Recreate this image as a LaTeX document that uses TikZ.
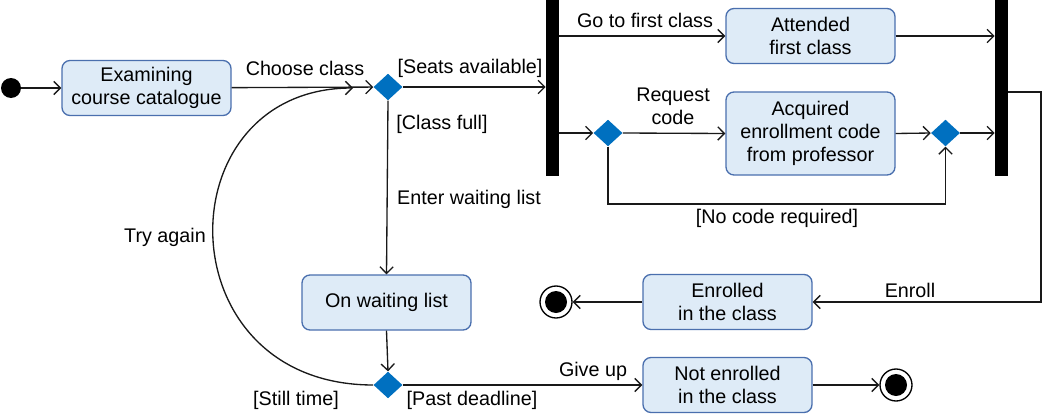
\documentclass[tikz,border=0pt]{standalone}
\usepackage{fontspec}
\setmainfont{Liberation Sans}
\usetikzlibrary{arrows.meta,shapes.geometric,calc}
\definecolor{boxfill}{HTML}{DEEBF7}
\definecolor{boxline}{HTML}{4A6FAE}
\definecolor{diafill}{HTML}{0070C0}
\begin{document}
\begin{tikzpicture}[x=0.75pt,y=-0.75pt,
  font=\fontsize{14.8}{17.5}\selectfont,
  act/.style={draw=boxline, fill=boxfill, rounded corners=6pt, line width=1pt, align=center, inner sep=0pt, minimum width=126.75pt, minimum height=41.25pt},
  dec/.style={diamond, fill=diafill, draw=none, minimum width=21.75pt, minimum height=20pt, inner sep=0pt},
  bar/.style={rectangle, fill=black, draw=none, minimum width=9.75pt, minimum height=132pt, inner sep=0pt},
  flow/.style={draw=black!90, line width=1pt, -{Straight Barb[length=5pt,width=10pt]}},
  lbl/.style={inner sep=0pt, align=center},
  finalnode/.style={circle, draw=black, line width=1pt, fill=white, minimum size=24pt, inner sep=0pt,
    path picture={\fill[black] (path picture bounding box.center) circle (8.25pt);}}]
\path[use as bounding box] (0,0) rectangle (1042,414);

% nodes
\node[circle, fill=black, minimum size=15pt, inner sep=0pt] (start) at (11,88) {};
\node[act] (exam) at (146.5,88) {Examining\\course catalogue};
\node[dec] (d1) at (388,87) {};
\node[bar] (f1) at (552.5,88) {};
\node[act] (att) at (810.5,36) {Attended\\first class};
\node[dec] (d3) at (608,133) {};
\node[act, minimum height=62.25pt] (acq) at (810.5,133.5) {Acquired\\enrollment code\\from professor};
\node[dec] (d4) at (945.5,133) {};
\node[bar] (f2) at (1001.5,88) {};
\node[act] (wait) at (386.5,302.5) {On waiting list};
\node[dec] (d2) at (388,385) {};
\node[act] (enr) at (727.5,302) {Enrolled\\in the class};
\node[act] (notenr) at (727.5,385) {Not enrolled\\in the class};
\node[finalnode] (end1) at (556,302) {};
\node[finalnode] (end2) at (896,385) {};

\coordinate (tryin) at (353,88);
\coordinate (nc) at (945.5,204);
\coordinate (r1) at (1041,92);

% connectors
\draw[flow] (start) -- (exam);
\draw[flow] (exam) -- (d1);
\draw[flow] (d1.east) -- (f1.west |- d1.east);
\draw[flow] (d1.south) -- (wait.north);
\draw[flow] (wait.south) -- (d2.north);
\draw[flow] (d2.east) -- (notenr.west);
\draw[flow] (notenr.east) -- (end2.west);
\draw[flow] (d2.west) .. controls (163,385) and (163,88) .. (tryin);
\draw[flow] (f1.east |- att.west) -- (att.west);
\draw[flow] (f1.east |- d3.west) -- (d3.west);
\draw[flow] (d3.east) -- (acq.west);
\draw[flow] (acq.east) -- (d4.west);
\draw[flow] (d4.east) -- (f2.west |- d4.east);
\draw[flow] (att.east) -- (f2.west |- att.east);
\draw[flow] (d3.south) |- (nc) -- (d4.south);
\draw[flow] (f2.east |- r1) -- (r1) |- (enr.east);
\draw[flow] (enr.west) -- (end1.east);

% labels
\node[lbl] at (305,68) {Choose class};
\node[lbl] at (470,68) {[Seats available]};
\node[lbl] at (442,124) {[Class full]};
\node[lbl] at (469,199) {Enter waiting list};
\node[lbl] at (165,237) {Try again};
\node[lbl] at (296,400) {[Still time]};
\node[lbl] at (472,400) {[Past deadline]};
\node[lbl] at (593,371) {Give up};
\node[lbl] at (645,20) {Go to first class};
\node[lbl] at (673,106) {Request\\code};
\node[lbl] at (777,218) {[No code required]};
\node[lbl] at (910,290) {Enroll};
\end{tikzpicture}
\end{document}
